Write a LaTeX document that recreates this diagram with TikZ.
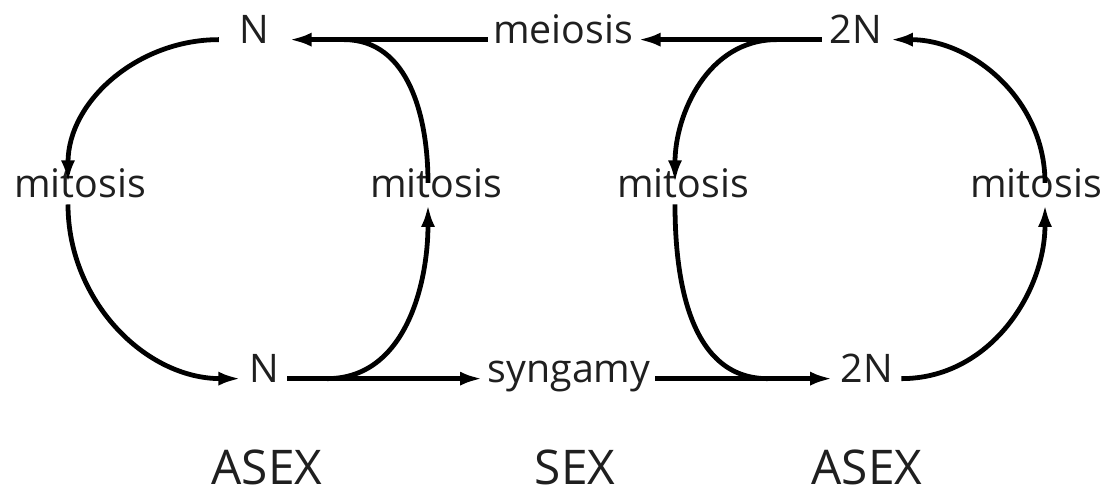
\documentclass[tikz,border=0pt]{standalone}
\usepackage{fontspec}
\setmainfont{Open Sans}
\usetikzlibrary{arrows.meta,calc,positioning}
\tikzset{
  lbl/.style={font=\fontsize{28}{34}\selectfont,text=black!88,text height=0.72em,text depth=0.1em,
    inner xsep=0.2cm,inner ysep=0.12cm,anchor=base},
  hdr/.style={font=\fontsize{34}{40}\selectfont,text=black!88,inner sep=0pt,text depth=0pt,anchor=base},
  cyc/.style={draw=black,line width=3.4pt},
  cyca/.style={cyc,-{Latex[length=16pt,width=10pt]}},
}
\begin{document}
\begin{tikzpicture}[x=0.025cm,y=0.025cm]
\useasboundingbox (0,0) rectangle (1113,499);
% ploidy states and the steps between them
\node[lbl,inner xsep=0.5cm] (Nt) at (254,455) {N};
\node[lbl,inner xsep=0.12cm] (mei) at (563,455) {meiosis};
\node[lbl] (DNt) at (856,455) {2N};
\foreach \n/\x in {mL/80,mML/436,mMR/683,mR/1036}
  \node[lbl] (\n) at (\x,301) {mitosis};
\node[lbl] (Nb) at (264,116) {N};
\node[lbl,inner xsep=0.12cm] (syn) at (569,116) {syngamy};
\node[lbl] (DNb) at (867,116) {2N};
% headings under the three cycles
\foreach \n/\x/\t in {aL/267/ASEX,sx/575/SEX,aR/867/ASEX}
  \node[hdr] (\n) at (\x,14) {\t};
% where the arcs run into the straight arrows
\coordinate (jt) at ($(Nt.east)+(55,0)$);
\coordinate (jt2) at ($(DNt.west)+(-45,0)$);
\coordinate (jb) at ($(Nb.east)+(40,0)$);
\coordinate (jb2) at ($(DNb.west)+(-65,0)$);
% --- left cycle (N)
\draw[cyca] (Nt.west) to[out=180,in=90] ($(mL.north)+(-12,0)$);
\draw[cyca] ($(mL.south)+(-12,0)$) to[out=-90,in=180] (Nb.west);
\draw[cyca] (jb) to[out=0,in=-90] ($(mML.south)+(-8,0)$);
\draw[cyc] ($(mML.north)+(-8,0)$) to[out=90,in=0] (jt);
% --- sex
\draw[cyca] (mei.west) -- (Nt.east);
\draw[cyca] (DNt.west) -- (mei.east);
\draw[cyca] (Nb.east) -- (syn.west);
\draw[cyca] (syn.east) -- (DNb.west);
% --- right cycle (2N)
\draw[cyca] (jt2) to[out=180,in=90] ($(mMR.north)+(-8,0)$);
\draw[cyc] ($(mMR.south)+(-8,0)$) to[out=-90,in=180] (jb2);
\draw[cyca] (DNb.east) to[out=0,in=-90] ($(mR.south)+(9,0)$);
\draw[cyca] ($(mR.north)+(9,0)$) to[out=90,in=0] (DNt.east);
\end{tikzpicture}
\end{document}
